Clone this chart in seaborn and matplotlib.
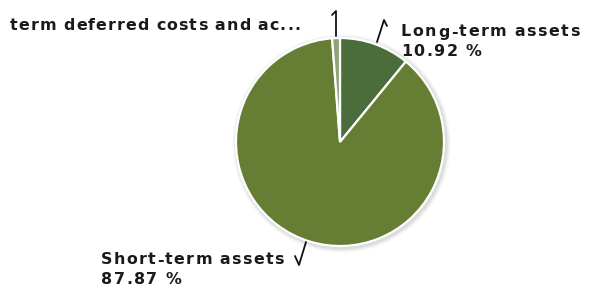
import numpy as np
import seaborn as sns
import matplotlib.pyplot as plt

# Data
labels = ["Long-term assets", "Short-term assets", "term deferred costs and ac..."]
shares = [10.92, 87.87, 1.21]
colors = ["#4b6d3b", "#667e33", "#8ea276"]

sns.set_theme(style="white")
plt.rcParams['font.family'] = ['DejaVu Sans']

W, H = 589, 288
fig = plt.figure(figsize=(W / 100, H / 100), dpi=100)
ax = fig.add_axes([0, 0, 1, 1])

cx, cy, r = 340, H - 142, 104

# soft shadow behind the pie
for k, a in zip([5, 3.5, 2], [0.08, 0.12, 0.18]):
    ax.add_patch(plt.Circle((cx + 1.5, cy - 1.5), r + k, color="#9a9a9a", alpha=a, lw=0))

ax.pie(shares, colors=colors, startangle=90, counterclock=False,
       center=(cx, cy), radius=r, frame=True,
       wedgeprops=dict(edgecolor="white", linewidth=1.6))
ax.set_xlim(0, W)
ax.set_ylim(0, H)
ax.set_aspect('equal')
ax.axis('off')

tc = "#1a1a1a"
fs = 11.4
renderer = fig.canvas.get_renderer()


def spaced_text(x, y, s, gap=1.5):
    # draw a string with extra letter spacing (x, y in pixel coords)
    for ch in s:
        t = ax.text(x, y, ch, fontsize=fs, fontweight='bold', color=tc,
                    va='center', ha='left')
        w = t.get_window_extent(renderer).width
        if ch == " ":
            w = fs * 0.45
        x += w + gap
    return x


# labels
spaced_text(10, H - 26, labels[2], gap=1.1)
spaced_text(401, H - 32, labels[0])
spaced_text(401, H - 52, f"{shares[0]:.2f} %")
spaced_text(101, H - 260, labels[1], gap=1.35)
spaced_text(101, H - 280, f"{shares[1]:.2f} %")

# leader hooks
lk = dict(color="#111111", lw=1.3, solid_capstyle='round')
ax.plot([332, 336, 336], [H - 15, H - 11, H - 36], **lk)
ax.plot([377, 384, 387], [H - 42, H - 20, H - 26], **lk)
ax.plot([295, 299, 306], [H - 256, H - 265, H - 242], **lk)

fig.savefig("out.png", dpi=100)
